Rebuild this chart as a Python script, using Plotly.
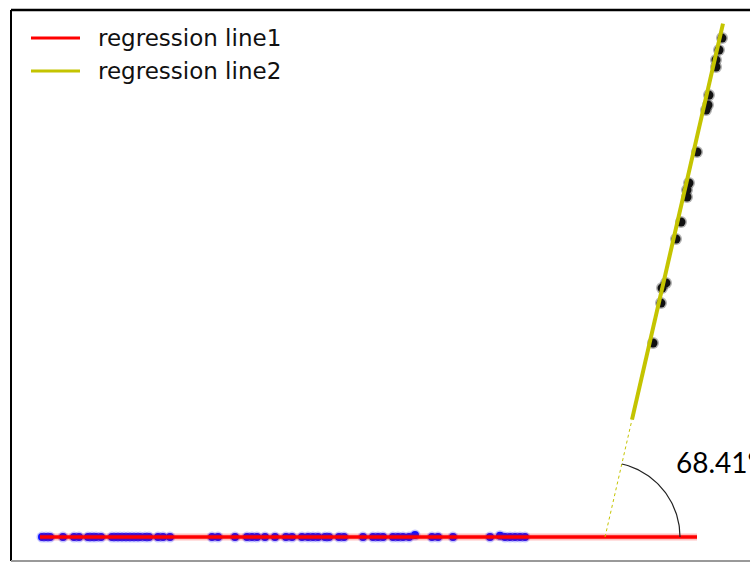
import numpy as np
import plotly.graph_objects as go

# ---- data -------------------------------------------------------------
# group 1: flat cluster along the first regression line
x1 = [0.31, 0.35, 0.39, 0.52, 0.63, 0.68, 0.77, 0.81, 0.85, 0.90,
      1.01, 1.05, 1.09, 1.13, 1.17, 1.21, 1.25, 1.29, 1.34, 1.38,
      1.47, 1.52, 1.59, 2.01, 2.07, 2.24, 2.36, 2.41, 2.46, 2.54,
      2.64, 2.75, 2.81, 2.91, 2.97, 3.02, 3.07, 3.14, 3.18, 3.28,
      3.33, 3.52, 3.62, 3.67, 3.72, 3.82, 3.87, 3.92, 3.98, 4.04,
      4.21, 4.27, 4.42, 4.79, 4.89, 4.94, 4.99, 5.04, 5.09, 5.14]
y1 = [0.139, 0.139, 0.139, 0.139, 0.139, 0.139, 0.139, 0.139, 0.139, 0.139,
      0.139, 0.139, 0.139, 0.139, 0.139, 0.139, 0.139, 0.139, 0.139, 0.139,
      0.139, 0.139, 0.139, 0.139, 0.139, 0.139, 0.139, 0.139, 0.139, 0.139,
      0.139, 0.139, 0.139, 0.139, 0.139, 0.139, 0.139, 0.139, 0.139, 0.139,
      0.139, 0.139, 0.139, 0.139, 0.139, 0.139, 0.139, 0.139, 0.139, 0.151,
      0.139, 0.139, 0.139, 0.139, 0.147, 0.139, 0.139, 0.139, 0.139, 0.139]

# group 2: steep cluster along the second regression line
x2 = [6.42, 6.50, 6.51, 6.55, 6.65, 6.70, 6.76, 6.76, 6.78,
      6.86, 6.95, 6.97, 6.98, 7.05, 7.05, 7.08, 7.11]
y2 = [1.266, 1.498, 1.585, 1.615, 1.870, 1.969, 2.114, 2.155, 2.195,
      2.375, 2.619, 2.648, 2.706, 2.869, 2.910, 2.968, 3.037]

# regression lines: slope, intercept and drawn x-extent
slope1, intercept1 = 0.0, 0.139
line1_x = [0.29, 6.86]

angle_deg = 68.41
slope2 = np.tan(np.radians(angle_deg))
intercept2 = 0.139 - slope2 * 5.94
line2_x = [6.21, 7.12]

angle_label = f"{angle_deg:.2f}°"

# ---- geometry ---------------------------------------------------------
W, H = 750, 563
margin = dict(l=11, r=0, t=10, b=2)
x_range = [0, 7.39]
y_range = [0, 3.2]
px_per_x = (W - margin["l"] - margin["r"]) / (x_range[1] - x_range[0])
px_per_y = (H - margin["t"] - margin["b"]) / (y_range[1] - y_range[0])

RED = "#ff0000"
OLIVE = "#c4c400"

# intersection of the two regression lines
xv = (intercept1 - intercept2) / (slope2 - slope1)
yv = slope1 * xv + intercept1

# angle arc drawn as a circle in screen space around the intersection
r_px = 75
a0 = np.arctan(slope1 * px_per_y / px_per_x)
a1 = np.arctan(slope2 * px_per_y / px_per_x)
theta = np.linspace(a0, a1, 60)
arc_x = xv + r_px * np.cos(theta) / px_per_x
arc_y = yv + r_px * np.sin(theta) / px_per_y

l1x = np.array(line1_x)
l1y = slope1 * l1x + intercept1
l2x = np.array(line2_x)
l2y = slope2 * l2x + intercept2
ext_x = np.array([xv, line2_x[0]])
ext_y = slope2 * ext_x + intercept2

fig = go.Figure()

# soft halo + blue points
fig.add_trace(go.Scatter(x=x1, y=y1, mode="markers", showlegend=False,
                         hoverinfo="skip",
                         marker=dict(size=11, color="rgba(90,90,255,0.35)")))
fig.add_trace(go.Scatter(x=x1, y=y1, mode="markers", showlegend=False,
                         marker=dict(size=8, color="#1010ff")))

# regression line 1 with a faint glow
fig.add_trace(go.Scatter(x=l1x, y=l1y, mode="lines", showlegend=False,
                         hoverinfo="skip",
                         line=dict(color="rgba(255,0,0,0.25)", width=7)))
fig.add_trace(go.Scatter(x=l1x, y=l1y, mode="lines", name="regression line1",
                         showlegend=False, line=dict(color=RED, width=3.5)))

# black points with a soft edge
fig.add_trace(go.Scatter(x=x2, y=y2, mode="markers", showlegend=False,
                         hoverinfo="skip",
                         marker=dict(size=12, color="rgba(0,0,0,0.3)")))
fig.add_trace(go.Scatter(x=x2, y=y2, mode="markers", showlegend=False,
                         marker=dict(size=9, color="#111111")))

# dashed extension of line 2 down to the intersection
fig.add_trace(go.Scatter(x=ext_x, y=ext_y, mode="lines", showlegend=False,
                         hoverinfo="skip",
                         line=dict(color=OLIVE, width=1, dash="3px,3px")))
# regression line 2
fig.add_trace(go.Scatter(x=l2x, y=l2y, mode="lines", name="regression line2",
                         showlegend=False, line=dict(color=OLIVE, width=4)))

# angle arc
fig.add_trace(go.Scatter(x=arc_x, y=arc_y, mode="lines", showlegend=False,
                         hoverinfo="skip",
                         line=dict(color="#222222", width=1.2)))

# ---- frame ------------------------------------------------------------
shapes = [
    dict(type="line", xref="paper", yref="paper", x0=0, x1=0, y0=0, y1=1,
         line=dict(color="#000000", width=2)),
    dict(type="line", xref="paper", yref="paper", x0=0, x1=1, y0=1, y1=1,
         line=dict(color="#000000", width=2.5)),
    dict(type="line", xref="paper", yref="paper", x0=0, x1=1, y0=0, y1=0,
         line=dict(color="#999999", width=2)),
]

# ---- legend (drawn by hand) -------------------------------------------
def to_paper(px, py):
    return ((px - margin["l"]) / (W - margin["l"] - margin["r"]),
            (H - margin["b"] - py) / (H - margin["t"] - margin["b"]))

annotations = []
legend_items = [("regression line1", RED, 38), ("regression line2", OLIVE, 71)]
for label, color, py in legend_items:
    xa, ya = to_paper(31, py)
    xb, _ = to_paper(80, py)
    shapes.append(dict(type="line", xref="paper", yref="paper",
                       x0=xa, x1=xb, y0=ya, y1=ya,
                       line=dict(color=color, width=3)))
    xt, yt = to_paper(96, py)
    annotations.append(dict(xref="paper", yref="paper", x=xt, y=yt,
                            text=label, showarrow=False,
                            xanchor="left", yanchor="middle",
                            font=dict(family="DejaVu Sans", size=23,
                                      color="#111111")))

# angle label, placed to the upper right of the arc
annotations.append(dict(x=xv + 69 / px_per_x, y=yv + 75 / px_per_y,
                        text=angle_label, showarrow=False,
                        xanchor="left", yanchor="middle",
                        font=dict(family="Lato", size=28, color="#000000")))

fig.update_layout(
    width=W, height=H, autosize=False,
    margin=margin,
    paper_bgcolor="white", plot_bgcolor="white",
    xaxis=dict(range=x_range, visible=False, fixedrange=True),
    yaxis=dict(range=y_range, visible=False, fixedrange=True),
    shapes=shapes,
    annotations=annotations,
    showlegend=False,
)

fig.write_html("out.html")
